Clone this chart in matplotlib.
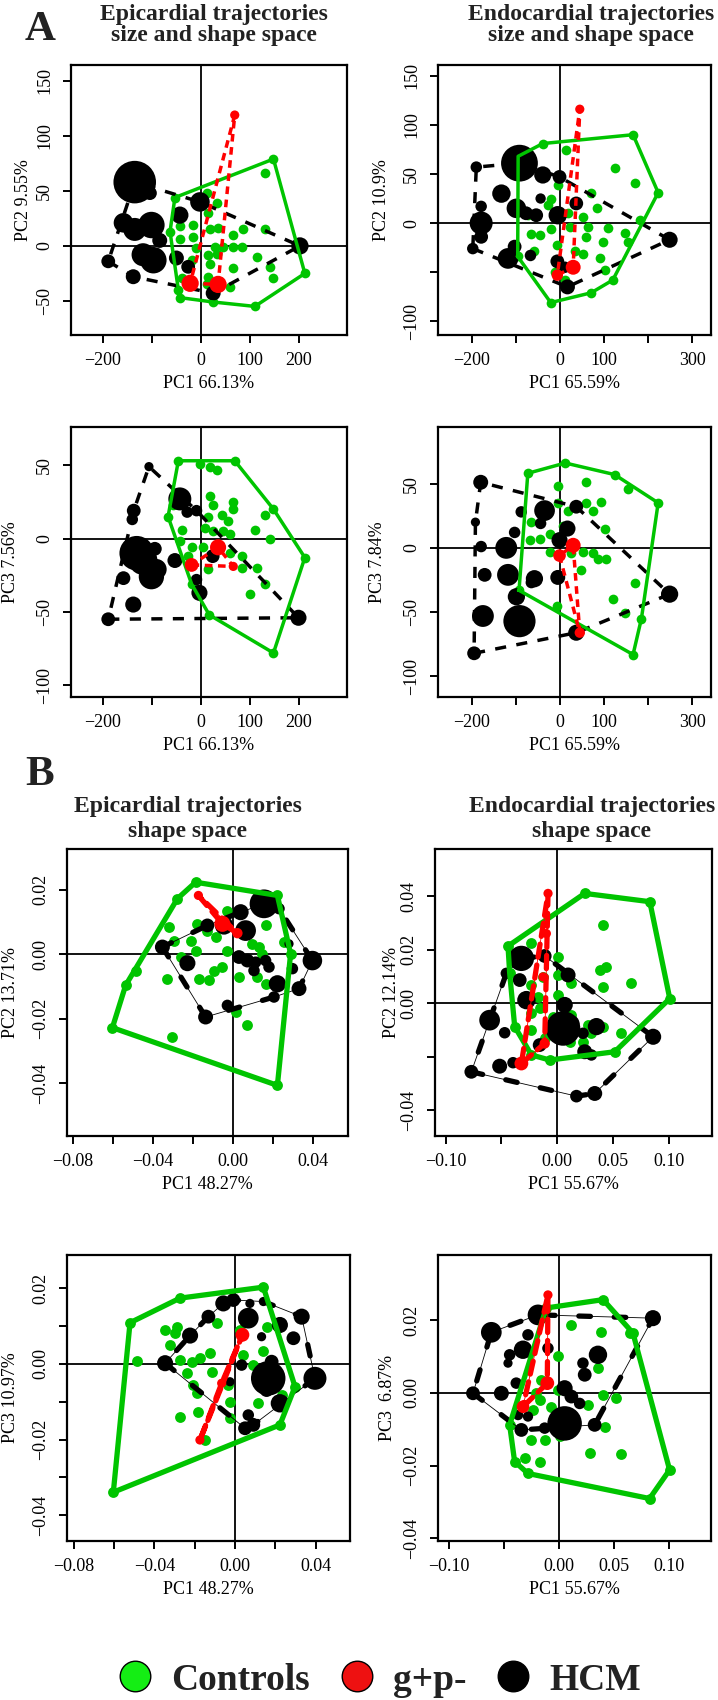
import numpy as np
import matplotlib
matplotlib.use('Agg')
import matplotlib.pyplot as plt
from matplotlib.lines import Line2D

plt.rcParams['font.family'] = ['Liberation Serif', 'DejaVu Serif']
plt.rcParams['axes.unicode_minus'] = True

# ---------------- data ----------------
# Panel A1: epicardial, size & shape, PC1 vs PC2
a1_ctrl_x = [-53,148,131,212,110,25,-43,-46,-63,-43,-16,-43,12,15,32,18,35,66,86,83,66,46,29,-16,-9,15,32,18,15,66,114,141,148,131,-39,12,59,-19]
a1_ctrl_y = [44,79,66,-25,-55,-51,-47,-40,13,18,19,6,48,30,39,15,16,10,15,-1,-1,-1,-1,8,-2,-8,-7,-16,-28,-20,-10,-19,-29,15,-29,-35,-37,-13]
a1_hcm_x = [-135,-104,-158,-135,-101,-84,-118,-97,-189,-138,-43,-2,-50,-26,25,202]
a1_hcm_y = [58,48,21,15,19,5,-8,-13,-14,-28,28,40,-11,-19,-43,0]
a1_hcm_cs = [37,12,17,20,23,13,20,23,12,13,15,17,13,12,13,15]
a1_gp_x = [-22,35,69]
a1_gp_y = [-34,-35,119]
a1_gp_cs = [15,15,8]

# Panel A2: endocardial, size & shape, PC1 vs PC2
a2_ctrl_x = [-39,166,223,181,120,71,-21,14,124,170,71,83,-5,-20,-27,18,52,-73,-65,-46,-21,-6,22,64,60,33,52,98,109,147,155,92,102,-12,-60,11,-95,-96]
a2_ctrl_y = [81,90,31,3,-58,-71,-81,74,56,41,31,15,39,25,18,10,6,8,-11,-12,-6,-22,-4,-4,-14,-28,-31,-19,-5,-10,-19,-36,-48,-50,-28,-58,68,-34]
a2_hcm_x = [-92,-190,-39,-1,-133,-179,-44,-99,-77,-54,-5,37,-179,-179,-198,-103,-118,-67,-6,17,249,11]
a2_hcm_y = [61,57,49,47,30,17,25,15,10,8,8,20,0,-14,-26,-24,-36,-33,-39,-65,-17,-45]
a2_hcm_cs = [32,10,15,12,16,10,9,17,12,12,16,12,20,12,10,12,18,10,12,13,14,10]
a2_gp_x = [-6,30,45]
a2_gp_y = [-53,-45,116]
a2_gp_cs = [10,13,8]

# Panel A3: epicardial, size & shape, PC1 vs PC3
a3_ctrl_x = [-46,-2,18,32,69,148,131,212,148,17,-67,-56,-39,-43,18,25,66,66,15,42,56,8,25,46,59,110,141,-19,5,59,83,114,131,83,100,15,-19,-26]
a3_ctrl_y = [53,51,49,47,53,20,16,-13,-78,-52,15,23,6,-2,29,23,25,20,15,16,12,7,5,5,3,6,0,-6,-6,-10,-12,-20,-31,-20,-38,-21,-31,-12]
a3_hcm_x = [-106,-137,-140,-43,-28,-9,-131,-118,-101,-91,-94,-158,-138,-53,-9,-3,-189,199,24]
a3_hcm_y = [49,19,13,27,18,19,-10,-15,-26,-21,-7,-27,-45,-15,-28,-37,-55,-54,-12]
a3_hcm_cs = [8,12,10,20,10,10,30,25,22,18,12,12,14,13,10,14,12,14,12]
a3_gp_x = [-19,35,66]
a3_gp_y = [-18,-6,-19]
a3_gp_cs = [12,14,8]

# Panel A4: endocardial, size & shape, PC1 vs PC3
a4_ctrl_x = [-73,12,124,155,223,185,166,-93,-5,60,-5,18,60,75,94,102,-65,-39,-69,-46,-23,7,-23,26,52,75,86,105,48,170,120,147,-6]
a4_ctrl_y = [58,66,57,46,35,-55,-83,-33,48,51,35,29,35,29,36,15,20,25,6,7,11,17,-3,-4,-3,-4,-9,-9,-17,-27,-40,-51,-45]
a4_hcm_x = [-180,-192,-179,-122,-171,-118,-58,-65,-5,-99,-175,-92,-195,37,249,-88,-35,-44,17,37,-103,-1]
a4_hcm_y = [51,20,1,0,-21,-21,-24,-27,-23,-38,-53,-57,-82,-66,-36,28,29,19,15,32,12,6]
a4_hcm_cs = [13,8,10,19,12,19,15,10,13,15,19,28,12,14,15,10,18,10,14,12,10,14]
a4_gp_x = [-1,30,45]
a4_gp_y = [-6,2,-66]
a4_gp_cs = [11,13,9]

# Panel B1: epicardial, shape, PC1 vs PC2
b1_ctrl_x = [-0.0603,-0.0187,0.0222,0.0222,0.0288,-0.0537,-0.0487,-0.0278,-0.0303,-0.0328,-0.0170,-0.0120,-0.0095,-0.0053,-0.032,-0.0178,-0.0128,-0.0212,-0.0295,-0.0187,-0.0262,-0.0087,-0.0028,-0.0028,0.003,0.0122,0.0163,0.0163,0.0097,0.013,0.0147,0.0255,0.0072,0.0013,0.0213]
b1_ctrl_y = [-0.0228,0.0223,0.0182,-0.0407,0.0001,-0.0097,-0.0051,0.0172,-0.0257,-0.0076,-0.0076,-0.0080,-0.0051,-0.0040,0.0084,0.0094,0.0073,0.0042,0.0042,0.0011,-0.0009,0.0053,0.0135,0.0011,-0.0071,-0.0071,-0.0092,0.0089,0.0032,0.0022,0.0001,0.0037,-0.0221,-0.018,0.0146]
b1_hcm_x = [-0.0353,-0.0228,-0.0128,-0.0045,0.0038,0.0063,0.0155,0.023,0.003,0.0072,0.0113,0.0163,0.0105,0.018,0.0222,0.0297,0.0397,0.033,0.0205,-0.0028,-0.0137,0.028]
b1_hcm_y = [0.0022,-0.0028,0.0089,0.0089,0.013,0.0073,0.0156,0.0141,-0.0009,-0.002,-0.0025,-0.002,-0.0051,-0.004,-0.0092,-0.0045,-0.002,-0.0107,-0.0133,-0.0159,-0.0195,0.0032]
b1_hcm_cs = [13,14,12,16,14,18,25,10,12,12,10,10,10,10,15,10,17,13,10,10,13,8]
b1_gp_x = [-0.0173,-0.0053,0.0022]
b1_gp_y = [0.0182,0.0094,0.0065]
b1_gp_cs = [8,14,9]

# Panel B2: endocardial, shape, PC1 vs PC2
b2_ctrl_x = [-0.044,0.0248,0.0832,0.1011,0.0518,-0.0066,-0.023,-0.038,-0.0425,0.0413,0.0383,0.0443,0.0413,0.0667,-0.023,-0.0275,0.0009,0.0009,-0.023,-0.0171,0.0009,0.0129,-0.023,-0.0156,-0.0036,0.0129,0.0278,0.0413,0.0577,0.0308,-0.023,-0.0111,0.0114,0.0233,-0.0126]
b2_ctrl_y = [0.0213,0.041,0.0379,0.0017,-0.0182,-0.0213,-0.0194,-0.0088,0.0111,0.0292,0.0123,0.0136,0.0061,0.0076,0.0223,0.0155,0.0173,0.0105,0.0067,0.0024,0.003,0.0074,-0.0039,-0.002,-0.0051,-0.0045,-0.0082,-0.0088,-0.0113,-0.0113,-0.0101,-0.0132,-0.0145,-0.0145,0.0098]
b2_hcm_x = [-0.032,-0.0111,-0.0455,-0.0335,0.0099,-0.0275,0.0069,-0.0605,-0.047,0.0054,0.0129,0.0353,0.0233,0.0862,-0.0156,0.0248,-0.0515,-0.0395,-0.0769,0.0174,0.0338,0.0308]
b2_hcm_y = [0.0167,0.0176,0.0111,0.0086,0.0105,0.0011,-0.0007,-0.0064,-0.0111,-0.0095,-0.0076,-0.0088,-0.0113,-0.0126,-0.0157,-0.0182,-0.0236,-0.0223,-0.0257,-0.0348,-0.0338,-0.0194]
b2_hcm_cs = [22,12,10,12,13,16,14,18,10,30,14,15,10,14,12,13,13,10,12,11,13,10]
b2_gp_x = [-0.0081,-0.0096,-0.0126,-0.0111,-0.032]
b2_gp_y = [0.041,0.026,0.0098,-0.0151,-0.0226]
b2_gp_cs = [8,8,8,9,12]

# Panel B3: epicardial, shape, PC1 vs PC3
b3_ctrl_x = [-0.0521,-0.0273,0.0141,0.0298,0.0223,-0.0604,-0.0488,-0.0323,-0.0273,-0.0215,-0.0174,-0.0124,-0.024,-0.0207,-0.0182,-0.0116,-0.0033,-0.0025,-0.0025,0.0041,0.0091,0.0116,0.0141,0.0232,-0.0149,-0.0347,-0.0289,-0.0298,-0.0091,0.0157,0.0025,-0.0273,-0.019]
b3_ctrl_y = [0.0109,0.0174,0.0203,-0.006,-0.0161,-0.0339,0.0009,0.005,0.0011,0.0006,0.0015,0.0028,-0.0025,-0.0056,-0.0126,-0.002,-0.0056,-0.01,-0.0144,0.0024,-0.0003,-0.0104,0.0033,-0.0082,-0.0201,0.009,0.0097,0.0083,0.0109,0.0099,0.009,-0.0139,-0.0078]
b3_hcm_x = [-0.0058,-0.0008,0.0074,0.0141,0.0066,0.0223,0.0331,-0.0132,-0.0223,0.0132,0.029,-0.0347,0.0033,0.0165,0.0182,0.0397,0.0157,0.0223,0.0066,0.005,0.0091,-0.0025]
b3_hcm_y = [0.016,0.0169,0.016,0.0165,0.0121,0.0103,0.0125,0.0125,0.0075,0.0072,0.0068,0.0002,-0.0003,-0.0038,0.0006,-0.0038,-0.0069,-0.0104,-0.0135,-0.017,-0.0161,-0.0047]
b3_hcm_cs = [14,12,8,8,18,14,14,12,14,8,12,14,10,30,12,20,12,16,10,12,12,8]
b3_gp_x = [0.0037,-0.0066,-0.0174]
b3_gp_y = [0.0077,-0.0051,-0.0201]
b3_gp_cs = [12,8,8]

# Panel B4: endocardial, shape, PC1 vs PC3
b4_ctrl_x = [-0.0115,0.0399,0.067,0.1002,0.0821,-0.0281,-0.0402,-0.0447,0.0112,0.0384,0.064,0.0353,-0.0009,-0.0166,-0.0205,-0.0175,-0.0236,-0.0069,-0.0251,-0.013,-0.0311,-0.0175,0.0006,0.0082,0.0278,0.0565,0.0263,0.0399,0.0519,0.0414,-0.0009,0.0097,0.0021]
b4_ctrl_y = [0.0234,0.0257,0.0165,-0.0212,-0.0291,-0.0222,-0.0189,-0.0088,0.0188,0.0169,0.0165,0.0068,0.0102,0.0036,0.0,-0.0019,-0.0047,-0.0038,-0.013,-0.013,-0.018,-0.0189,-0.012,-0.0111,-0.0166,-0.0168,-0.0033,-0.0006,-0.0015,-0.0093,0.0008,-0.0006,-0.0065]
b4_hcm_x = [-0.019,0.0851,-0.0613,-0.0281,-0.0326,-0.0447,-0.0462,-0.01,0.0353,0.0217,0.0233,-0.0387,0.0051,-0.0779,-0.0522,0.0112,0.0187,-0.0371,-0.0281,0.0051,0.0323,-0.0341,-0.013]
b4_hcm_y = [0.0215,0.0206,0.0167,0.016,0.0119,0.0105,0.0082,0.0123,0.0105,0.0082,0.005,0.0027,0.0013,-0.0001,-0.0001,-0.001,-0.0029,-0.0061,-0.0065,-0.0084,-0.0088,-0.0102,-0.0097]
b4_hcm_cs = [18,14,18,10,16,10,8,10,16,10,12,10,14,12,13,12,10,9,9,30,12,12,10]
b4_gp_x = [-0.01,-0.0106,-0.0326]
b4_gp_y = [0.027,0.0027,-0.0038]
b4_gp_cs = [8,12,11]

group_labels = ['Controls', 'g+p-', 'HCM']
titles_A = ['Epicardial trajectories\nsize and shape space', 'Endocardial trajectories\nsize and shape space']
titles_B = ['Epicardial trajectories\nshape space', 'Endocardial trajectories\nshape space']
xlabels = ['PC1 66.13%', 'PC1 65.59%', 'PC1 66.13%', 'PC1 65.59%',
           'PC1 48.27%', 'PC1 55.67%', 'PC1 48.27%', 'PC1 55.67%']
ylabels = ['PC2 9.55%', 'PC2 10.9%', 'PC3 7.56%', 'PC3 7.84%',
           'PC2 13.71%', 'PC2 12.14%', 'PC3 10.97%', 'PC3  6.87%']

# ---------------- style ----------------
GREEN = '#00c400'
RED = '#ff0000'
W, H = 718, 1700
fig = plt.figure(figsize=(W / 100, H / 100), dpi=100)


def convex_hull(xs, ys):
    pts = sorted(set(zip(xs, ys)))
    def cross(o, a, b):
        return (a[0] - o[0]) * (b[1] - o[1]) - (a[1] - o[1]) * (b[0] - o[0])
    lower, upper = [], []
    for p in pts:
        while len(lower) >= 2 and cross(lower[-2], lower[-1], p) <= 0:
            lower.pop()
        lower.append(p)
    for p in reversed(pts):
        while len(upper) >= 2 and cross(upper[-2], upper[-1], p) <= 0:
            upper.pop()
        upper.append(p)
    h = lower[:-1] + upper[:-1]
    h.append(h[0])
    return [p[0] for p in h], [p[1] for p in h]


def add_ax(x0, x1, y0, y1):
    return fig.add_axes([x0 / W, 1 - y1 / H, (x1 - x0) / W, (y1 - y0) / H])


def m(v):
    return '\u2212' + v[1:] if v.startswith('-') else v


def draw_panel(box, ctrl, hcm, gp, kind, xlim, ylim, xt, xtl, yt, ytl,
               xlab, ylab, ylab_off):
    x0, x1, y0, y1 = box
    ax = add_ax(x0, x1, y0, y1)
    wpx, hpx = x1 - x0, y1 - y0
    ax.axhline(0, color='black', lw=1.3, zorder=1)
    ax.axvline(0, color='black', lw=1.3, zorder=1)
    cx, cy = ctrl
    hx, hy, hcs = hcm
    gx, gy, gcs = gp
    gsize = 7.0 if kind == 'A' else 7.8
    k = 0.72 * 1.15
    ax.scatter(cx, cy, s=gsize ** 2, c=GREEN, lw=0, zorder=3)
    ax.scatter(hx, hy, s=(np.array(hcs) * k) ** 2, c='black', lw=0, zorder=4)
    bx, by = convex_hull(hx, hy)
    kx, ky = convex_hull(cx, cy)
    rx, ry = convex_hull(gx, gy)
    if kind == 'A':
        ax.plot(bx, by, color='black', lw=2.5, ls=(0, (3.2, 3.0)), zorder=5)
        ax.plot(kx, ky, color=GREEN, lw=2.5, zorder=6, solid_joinstyle='round')
        ax.scatter(gx, gy, s=(np.array(gcs) * k) ** 2, c=RED, lw=0, zorder=7)
        ax.plot(rx, ry, color=RED, lw=2.5, ls=(0, (2.2, 1.6)), zorder=7)
    else:
        ax.plot(bx, by, color='black', lw=0.6, zorder=5)
        ax.plot(bx, by, color='black', lw=3.8, ls=(0, (2.2, 4.5)),
                dash_capstyle='round', zorder=5)
        ax.plot(kx, ky, color=GREEN, lw=3.8, zorder=6, solid_joinstyle='round')
        ax.scatter(gx, gy, s=(np.array(gcs) * k) ** 2, c=RED, lw=0, zorder=7)
        ax.plot(rx, ry, color=RED, lw=0.6, zorder=7)
        ax.plot(rx, ry, color=RED, lw=3.8, ls=(0, (2.5, 1.5)),
                dash_capstyle='round', zorder=7)
    ax.set_xlim(*xlim)
    ax.set_ylim(*ylim)
    ax.set_xticks(xt)
    ax.set_xticklabels([m(t) for t in xtl], fontsize=13)
    ax.set_yticks(yt)
    ax.set_yticklabels([m(t) for t in ytl], fontsize=13, rotation=90, va='center')
    ax.tick_params(direction='out', length=6, width=1.4, pad=6, colors='black')
    ax.tick_params(axis='y', pad=7)
    for sp in ax.spines.values():
        sp.set_linewidth(1.6)
    ax.set_xlabel(xlab, fontsize=13)
    ax.xaxis.set_label_coords(0.5, -40 / hpx)
    ax.set_ylabel(ylab, fontsize=13)
    ax.yaxis.set_label_coords(-ylab_off / wpx, 0.5)
    return ax


xtA1 = [-200, -100, 0, 100, 200]
xtA1l = ['-200', '', '0', '100', '200']
xtA2 = [-200, -100, 0, 100, 200, 300]
xtA2l = ['-200', '', '0', '100', '', '300']
xtB1 = [-0.08, -0.06, -0.04, -0.02, 0.0, 0.02, 0.04]
xtB1l = ['-0.08', '', '-0.04', '', '0.00', '', '0.04']
xtB2 = [-0.10, -0.05, 0.0, 0.05, 0.10]
xtB2l = ['-0.10', '', '0.00', '0.05', '0.10']

draw_panel((71, 347, 65, 335), (a1_ctrl_x, a1_ctrl_y), (a1_hcm_x, a1_hcm_y, a1_hcm_cs),
           (a1_gp_x, a1_gp_y, a1_gp_cs), 'A', (-265, 298), (-81, 164.5),
           xtA1, xtA1l, [-50, 0, 50, 100, 150], ['-50', '0', '50', '100', '150'],
           xlabels[0], ylabels[0], 39)
draw_panel((438, 711, 65, 335), (a2_ctrl_x, a2_ctrl_y), (a2_hcm_x, a2_hcm_y, a2_hcm_cs),
           (a2_gp_x, a2_gp_y, a2_gp_cs), 'A', (-277, 343), (-114, 161),
           xtA2, xtA2l, [-100, -50, 0, 50, 100, 150], ['-100', '', '0', '50', '100', '150'],
           xlabels[1], ylabels[1], 48)
draw_panel((71, 347, 427, 697), (a3_ctrl_x, a3_ctrl_y), (a3_hcm_x, a3_hcm_y, a3_hcm_cs),
           (a3_gp_x, a3_gp_y, a3_gp_cs), 'A', (-265, 298), (-108, 76),
           xtA1, xtA1l, [-100, -50, 0, 50], ['-100', '-50', '0', '50'],
           xlabels[2], ylabels[2], 52)
draw_panel((438, 711, 427, 697), (a4_ctrl_x, a4_ctrl_y), (a4_hcm_x, a4_hcm_y, a4_hcm_cs),
           (a4_gp_x, a4_gp_y, a4_gp_cs), 'A', (-277, 343), (-116, 94),
           xtA2, xtA2l, [-100, -50, 0, 50], ['-100', '-50', '0', '50'],
           xlabels[3], ylabels[3], 52)
draw_panel((67, 348, 849, 1136), (b1_ctrl_x, b1_ctrl_y), (b1_hcm_x, b1_hcm_y, b1_hcm_cs),
           (b1_gp_x, b1_gp_y, b1_gp_cs), 'B', (-0.083, 0.0575), (-0.0564, 0.0326),
           xtB1, xtB1l, [-0.04, -0.02, 0.0, 0.02], ['-0.04', '-0.02', '0.00', '0.02'],
           xlabels[4], ylabels[4], 48)
draw_panel((435, 712, 849, 1136), (b2_ctrl_x, b2_ctrl_y), (b2_hcm_x, b2_hcm_y, b2_hcm_cs),
           (b2_gp_x, b2_gp_y, b2_gp_cs), 'B', (-0.1095, 0.139), (-0.0497, 0.0576),
           xtB2, xtB2l, [-0.04, -0.02, 0.0, 0.02, 0.04], ['-0.04', '', '0.00', '0.02', '0.04'],
           xlabels[5], ylabels[5], 35)
draw_panel((67, 350, 1255, 1541), (b3_ctrl_x, b3_ctrl_y), (b3_hcm_x, b3_hcm_y, b3_hcm_cs),
           (b3_gp_x, b3_gp_y, b3_gp_cs), 'B', (-0.0834, 0.0571), (-0.0468, 0.0288),
           xtB1, xtB1l, [-0.04, -0.03, -0.02, -0.01, 0.0, 0.01, 0.02],
           ['-0.04', '', '-0.02', '', '0.00', '', '0.02'],
           xlabels[6], ylabels[6], 48)
draw_panel((438, 711, 1255, 1541), (b4_ctrl_x, b4_ctrl_y), (b4_hcm_x, b4_hcm_y, b4_hcm_cs),
           (b4_gp_x, b4_gp_y, b4_gp_cs), 'B', (-0.1096, 0.1377), (-0.0408, 0.038),
           xtB2, xtB2l, [-0.04, -0.02, 0.0, 0.02], ['-0.04', '-0.02', '0.00', '0.02'],
           xlabels[7], ylabels[7], 42)

TC = '#222222'
def ftext(x, y, s, **kw):
    fig.text(x / W, 1 - y / H, s, **kw)

ftext(25, 40, 'A', fontsize=31, fontweight='bold', color=TC, va='baseline', ha='left')
ftext(25, 785, 'B', fontsize=31, fontweight='bold', color=TC, va='baseline', ha='left')

for cxp, t in zip([214, 591], titles_A):
    l1, l2 = t.split('\n')
    ftext(cxp, 20, l1, fontsize=17, fontweight='bold', color=TC, ha='center', va='baseline')
    ftext(cxp, 41, l2, fontsize=17, fontweight='bold', color=TC, ha='center', va='baseline')
for cxp, t in zip([188, 592], titles_B):
    l1, l2 = t.split('\n')
    ftext(cxp, 812, l1, fontsize=17, fontweight='bold', color=TC, ha='center', va='baseline')
    ftext(cxp, 837, l2, fontsize=17, fontweight='bold', color=TC, ha='center', va='baseline')

handles = [Line2D([], [], ls='', marker='o', markersize=22, markerfacecolor=c,
                  markeredgecolor='black', markeredgewidth=1.0)
           for c in ['#14ee14', '#ee1111', 'black']]
fig.legend(handles, group_labels, loc='center', bbox_to_anchor=(0.53, 1 - 1680 / H),
           ncol=3, frameon=False, handlelength=0.8, handletextpad=0.56,
           columnspacing=0.85, prop={'family': 'Liberation Serif', 'weight': 'bold', 'size': 27},
           labelcolor=TC)

fig.savefig('out.png', dpi=100)
